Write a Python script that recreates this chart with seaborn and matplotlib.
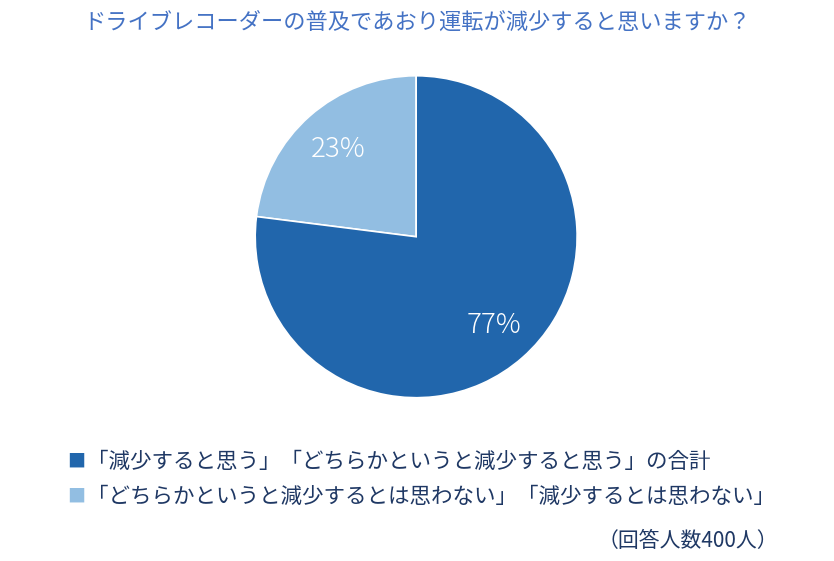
import matplotlib.pyplot as plt
import seaborn as sns

labels = ['「減少すると思う」「どちらかというと減少すると思う」の合計',
          '「どちらかというと減少するとは思わない」「減少するとは思わない」']
shares = [77, 23]
colors = ['#2166ac', '#92bee2']
title = 'ドライブレコーダーの普及であおり運転が減少すると思いますか？'
note = '（回答人数400人）'

sns.set_theme(style='white')
plt.rcParams['font.family'] = ['Noto Sans CJK JP', 'DejaVu Sans']

fig = plt.figure(figsize=(8.34, 5.61), dpi=100)
ax = fig.add_axes([0.306, 0.291, 0.386, 0.574])

# light slice first so it sits top-left, counterclockwise from 12 o'clock
wedges, texts, autotexts = ax.pie(
    shares[::-1], colors=colors[::-1], startangle=90, counterclock=True,
    autopct='%d%%', pctdistance=0.73,
    wedgeprops=dict(edgecolor='white', linewidth=1.2),
    textprops=dict(color='white', fontsize=20, fontweight='light'))
ax.set_xlim(-1.0, 1.0)
ax.set_ylim(-1.0, 1.0)
ax.set_aspect('equal')

fig.text(0.5, 0.96, title, ha='center', va='center', fontsize=16, color='#4472c4')

ys = [0.177, 0.114]
for y, lab, c in zip(ys, labels, colors):
    fig.text(0.081, y, '■', ha='left', va='center', fontsize=13, color=c)
    fig.text(0.104, y, lab, ha='left', va='center', fontsize=15.5, color='#1f3864')

fig.text(0.933, 0.036, note, ha='right', va='center', fontsize=15, color='#1f3864')

fig.savefig('out.png', dpi=100)
